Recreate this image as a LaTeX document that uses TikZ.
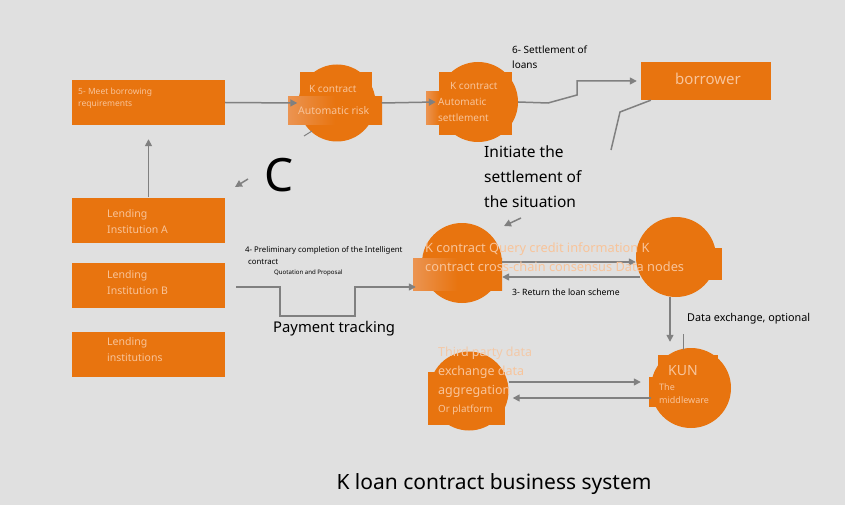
\documentclass[tikz,border=0pt]{standalone}
\usepackage{fontspec}
\setmainfont{Noto Sans}
\usetikzlibrary{arrows.meta}
\definecolor{bg}{HTML}{E0E0E0}
\definecolor{org}{HTML}{E8740F}
\definecolor{fade}{HTML}{EB9452}
\definecolor{ltxt}{HTML}{F8C49A}
\definecolor{ptxt}{HTML}{F3C9A8}
\definecolor{ln}{HTML}{808080}
\begin{document}
\begin{tikzpicture}[x=1pt,y=-1pt,
  box/.style={fill=org, draw=none, minimum width=153pt, minimum height=45pt, inner sep=0},
  circ/.style={circle, fill=org, draw=none, minimum size=80pt, inner sep=0},
  patch/.style={fill=org, draw=none},
  fadepatch/.style={left color=fade, right color=org, middle color=org, draw=none},
  conn/.style={draw=ln, line width=1.5pt, -{Triangle[length=7pt,width=7pt]}},
  plain/.style={draw=ln, line width=1.5pt},
  otxt/.style={text=ltxt, align=left, anchor=west, inner sep=0},
  btxt/.style={text=black, align=left, anchor=west, inner sep=0},
]
\fill[bg] (0,0) rectangle (845,505);
\useasboundingbox (0,0) rectangle (845,505);

% boxes
\node[box] (box5) at (148.5,102.5) {};
\node[box] (lendA) at (148.5,220) {};
\node[box] (lendB) at (148.5,285.5) {};
\node[box] (lendC) at (148.5,354) {};
\node[box, minimum width=130pt, minimum height=38pt] (borrower) at (706,81) {};

% circles
\node[circ, minimum size=77pt] (c1) at (337,103) {};
\node[circ] (c2) at (478,102) {};
\node[circ] (c3) at (462,263) {};
\node[circ] (c4) at (676,257) {};
\node[circ] (kun) at (691,388) {};
\node[circ, minimum size=79pt] (tp) at (469,391) {};

% square text backings on the circles
\fill[patch] (300,72) rectangle (372,118);
\fill[fadepatch] (288,97) rectangle (382,125);
\fill[patch] (439,72) rectangle (512,135);
\fill[fadepatch] (426,92) rectangle (453,125);
\fill[fadepatch] (413,258) rectangle (502,290);
\fill[patch] (703,248) rectangle (722,280);
\fill[patch] (428,372) rectangle (505,425);
\fill[patch] (658,355) rectangle (718,407);
\fill[patch] (649,377) rectangle (660,407);

% free coordinates
\coordinate (bl1) at (620,112);
\coordinate (bl2) at (611,150);
\coordinate (ar1s) at (521,218);
\coordinate (ar1e) at (504,226);
\coordinate (ar2s) at (248,179);
\coordinate (ar2e) at (235,187);
\coordinate (tk1) at (304,136);
\coordinate (tk2) at (312,131);
\coordinate (p0) at (236,287);
\coordinate (v1) at (683,334);
\coordinate (v2) at (683,350);

% connectors
\draw[conn] (box5.east) -- ([xshift=-1pt]c1.west);
\draw[conn] ([xshift=6pt]c1.east) -- ([xshift=-2pt]c2.west);
\draw[conn] (c2.east) -- (548,103) -- (577,95) |- ([xshift=-4pt]borrower.west);
\draw[plain] ([xshift=10pt]borrower.south west) -- (bl1) -- (bl2);
\draw[conn] (ar1s) -- (ar1e);
\draw[conn] (ar2s) -- (ar2e);
\draw[plain, line width=1pt] (tk1) -- (tk2);
\draw[conn, shorten >=14pt] (lendA.north) -- (box5.south);
\draw[conn] (p0) -- (280,287) -- (280,316) -- (355,316) -- (355,287) -- ([xshift=-6pt]c3.west |- p0);
\draw[conn] ([yshift=1pt]c3.east) -- ([yshift=1pt]c3.east -| c4.west);
\draw[conn] ([yshift=-20pt,xshift=4pt]c4.west) -- ([yshift=-20pt]c4.west -| c3.east);
\draw[conn, shorten >=6pt] ([xshift=-6pt]c4.south) -- ([xshift=-6pt]c4.south |- kun.north);
\draw[plain, line width=1pt] (v1) -- (v2);
\draw[conn, shorten >=10pt] ([yshift=9pt]tp.east) -- ([yshift=9pt]tp.east -| kun.west);
\draw[conn, shorten >=4pt] ([yshift=-10pt]kun.west) -- ([yshift=-10pt]kun.west -| tp.east);

% texts in boxes
\node[otxt, font=\fontsize{8.5}{12}\selectfont] (t5) at (78,98) {5- Meet borrowing\\requirements};
\node[otxt, font=\fontsize{10.5}{16}\selectfont] (tA) at (107,222) {Lending\\Institution A};
\node[otxt, font=\fontsize{10.5}{16}\selectfont] (tB) at (107,283) {Lending\\Institution B};
\node[otxt, font=\fontsize{10.5}{16}\selectfont] (tC) at (107,350) {Lending\\institutions};
\node[text=ltxt, inner sep=0, font=\fontsize{15}{16}\selectfont] (tbor) at (708,79) {borrower};

% texts in circles
\node[otxt, font=\fontsize{10}{11}\selectfont] (tc1a) at (309,89) {K contract};
\node[otxt, font=\fontsize{10.5}{11}\selectfont] (tc1b) at (298,111) {Automatic risk};
\node[otxt, font=\fontsize{10}{11}\selectfont] (tc2a) at (450,86) {K contract};
\node[otxt, font=\fontsize{10}{16}\selectfont] (tc2b) at (438,110) {Automatic\\settlement};
\node[otxt, font=\fontsize{12.8}{19}\selectfont] (tc3) at (425,257.5) {K contract Query credit information K\\contract cross-chain consensus Data nodes};
\node[text=ptxt, anchor=west, inner sep=0, font=\fontsize{12.5}{19}\selectfont] (ttp1) at (438,353) {Third party data};
\node[otxt, font=\fontsize{12.5}{19}\selectfont] (ttp2) at (438,381.5) {exchange data\\aggregation};
\node[otxt, font=\fontsize{9.8}{11}\selectfont] (ttp3) at (438,410) {Or platform};
\node[otxt, font=\fontsize{14}{16}\selectfont] (tkun) at (668,371) {KUN};
\node[otxt, font=\fontsize{9}{13}\selectfont] (tkun2) at (659,393.5) {The\\middleware};

% black labels
\node[btxt, font=\fontsize{10}{15}\selectfont] (t6) at (512,57.5) {6- Settlement of\\loans};
\node[btxt, font=\fontsize{15.5}{25}\selectfont] (tinit) at (484,177) {Initiate the\\settlement of\\the situation};
\node[btxt, font=\fontsize{46}{50}\selectfont] (tC2) at (264,175) {C};
\node[btxt, font=\fontsize{7.8}{12}\selectfont] (t4) at (245,256) {4- Preliminary completion of the Intelligent\\\hspace{3pt}contract};
\node[btxt, font=\fontsize{6.1}{7}\selectfont] (tq) at (274,273) {Quotation and Proposal};
\node[btxt, font=\fontsize{14.8}{16}\selectfont] (tpay) at (273,329) {Payment tracking};
\node[btxt, font=\fontsize{8.7}{10}\selectfont] (t3) at (512,292) {3- Return the loan scheme};
\node[btxt, font=\fontsize{10.8}{12}\selectfont] (tde) at (687,319) {Data exchange, optional};
\node[text=black, inner sep=0, font=\fontsize{21}{22}\selectfont] (title) at (494,484) {K loan contract business system};
\end{tikzpicture}
\end{document}
